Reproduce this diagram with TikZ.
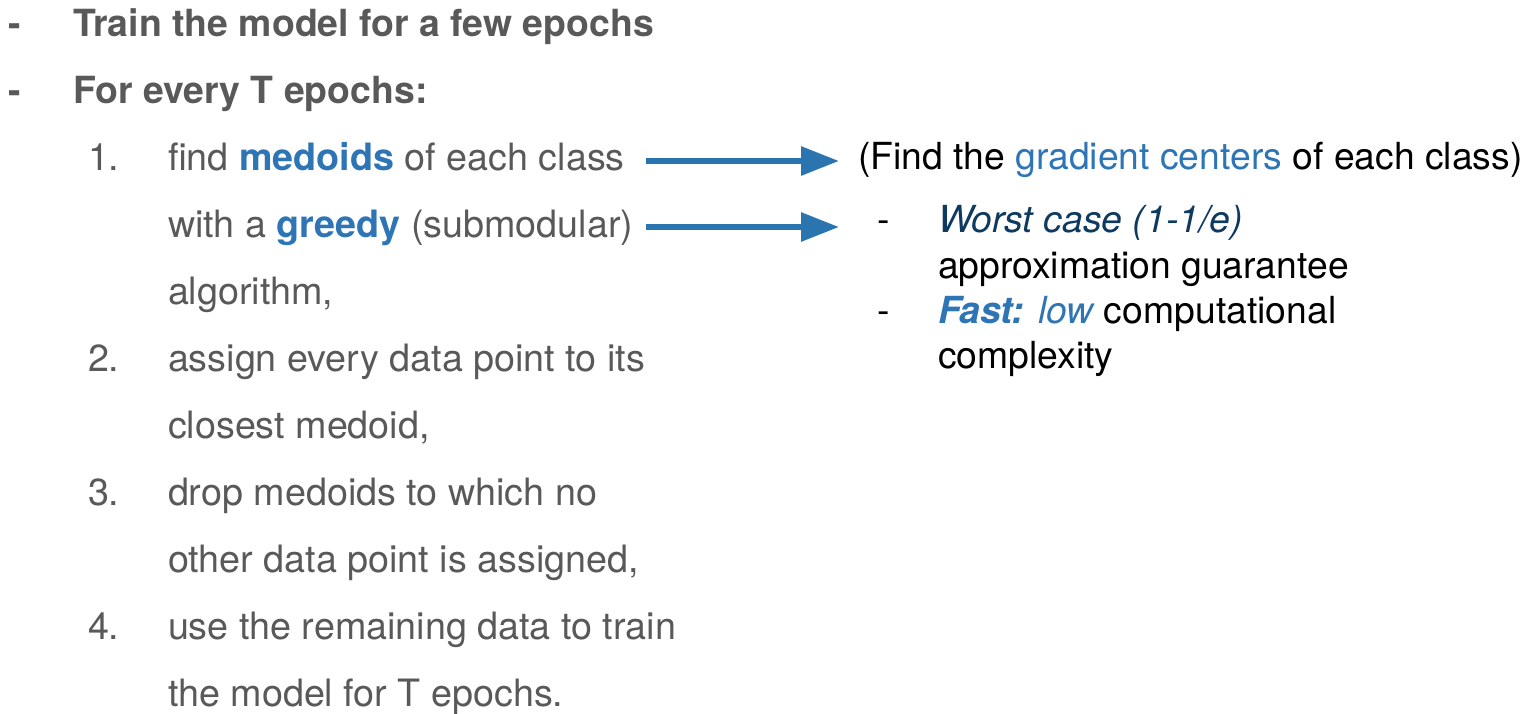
\documentclass[tikz,border=0pt]{standalone}
\usepackage{fontspec}
\setmainfont{TeX Gyre Heros}
\usetikzlibrary{arrows.meta}
\definecolor{txtgray}{HTML}{595959}
\definecolor{hlblue}{HTML}{2E75B6}
\definecolor{navy}{HTML}{0E3A5F}
\definecolor{arrowblue}{HTML}{2A74B0}
\begin{document}
\begin{tikzpicture}[x=1pt,y=-1pt,
  txt/.style={anchor=base west,inner sep=0pt,outer sep=0pt,font=\fontsize{37.7}{37.7}\selectfont},
  lgray/.style={txt,text=txtgray},
  lbold/.style={txt,text=txtgray,font=\fontsize{37.4}{37.4}\selectfont\bfseries},
  rtxt/.style={txt,text=black,font=\fontsize{37.3}{37.3}\selectfont},
  bigarrow/.style={draw=arrowblue,line width=6pt,-{Triangle[length=38pt,width=28pt]}}]
\useasboundingbox (0,0) rectangle (1528,713);
% top bullets
\node[lbold] (d1) at (9,36) {-};
\node[lbold] (b1) at (73,36) {Train the model for a few epochs};
\node[lbold] (d2) at (9,103) {-};
\node[lbold] (b2) at (73,103) {For every T epochs:};
% numbered items
\node[lgray] (n1) at (88,170) {1.};
\node[lgray] (l1) at (168,170) {find \textbf{\textcolor{hlblue}{medoids}} of each class};
\node[lgray] (l2) at (168,237) {with a \textbf{\textcolor{hlblue}{greedy}} (submodular)};
\node[lgray] (l3) at (168,304) {algorithm,};
\node[lgray] (n2) at (88,371) {2.};
\node[lgray] (l4) at (168,371) {assign every data point to its};
\node[lgray] (l5) at (168,438) {closest medoid,};
\node[lgray] (n3) at (88,505) {3.};
\node[lgray] (l6) at (168,505) {drop medoids to which no};
\node[lgray] (l7) at (168,572) {other data point is assigned,};
\node[lgray] (n4) at (88,639) {4.};
\node[lgray] (l8) at (168,639) {use the remaining data to train};
\node[lgray] (l9) at (168,706) {the model for T epochs.};
% right side
\node[rtxt] (r1) at (858,169) {(Find the \textcolor{hlblue}{gradient centers} of each class)};
\node[rtxt] (rd1) at (877,232) {-};
\node[rtxt] (r2) at (938,232) {\textcolor{navy}{\itshape Worst case (1-1/e)}};
\node[rtxt] (r3) at (938,278) {approximation guarantee};
\node[rtxt] (rd2) at (877,323) {-};
\node[rtxt] (r4) at (938,323) {\textcolor{hlblue}{\bfseries\itshape Fast:} \textcolor{hlblue}{\itshape low} computational};
\node[rtxt] (r5) at (938,368) {complexity};
% arrows
\coordinate (a1s) at (646,161);
\coordinate (a1e) at (839,161);
\coordinate (a2s) at (646,227);
\coordinate (a2e) at (839,227);
\draw[bigarrow] (a1s) -- (a1e);
\draw[bigarrow] (a2s) -- (a2e);
\end{tikzpicture}
\end{document}
